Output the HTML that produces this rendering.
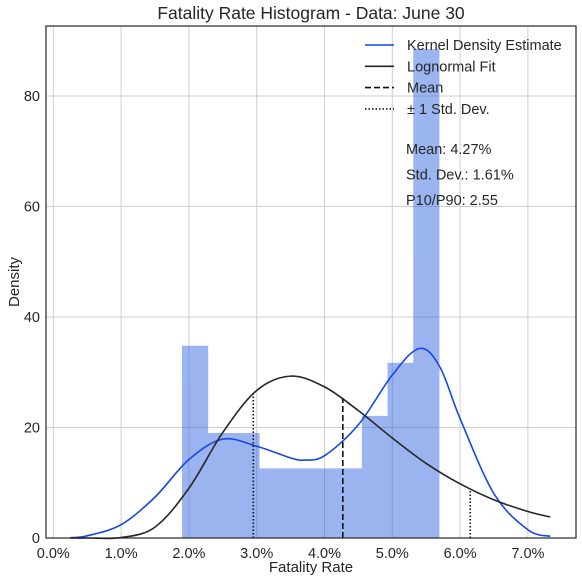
<!DOCTYPE html>
<html><head><meta charset="utf-8"><style>
body{margin:0;background:#fff;font-family:"Liberation Sans",Arial,sans-serif}
svg text{font-family:"Liberation Sans",Arial,sans-serif;fill:#262626}
</style></head><body>
<svg id="c" width="582" height="581"></svg>
<script>
const binStart=1.898, binWidth=0.379;
const binHeights=[34.8,19,19,12.6,12.6,12.6,12.6,22.1,31.7,88.5];
const kdeX=[0.25,0.5,1.0,1.5,2.0,2.5,3.0,3.5,3.7,4.0,4.5,5.0,5.4,5.7,6.0,6.5,7.0,7.33];
const kdeY=[0.05,0.4,2.4,7.4,14.2,17.9,16.6,14.5,14.1,14.9,20.5,29.5,34.3,31,21.6,8,1.5,0.3];
const lnX=[0.25,0.5,1.0,1.5,2.0,2.5,3.0,3.5,4.0,4.5,5.0,5.5,6.0,6.5,7.0,7.33];
const lnY=[0,0,0.08,1.97,9.0,19.1,26.7,29.3,27.35,23.05,18.1,13.5,9.8,6.9,4.8,3.8];
const meanVal=[4.27], meanTop=[25.3];
const sdVals=[2.95,6.15], sdTops=[26.3,8.9];
const xTicks=[0,1,2,3,4,5,6,7], yTicks=[0,20,40,60,80];
const statLines=["Mean: 4.27%","Std. Dev.: 1.61%","P10/P90: 2.55"];

const L=46,R=576,T=26,B=538;
const X=v=>53.3+v*67.8, Y=v=>538-v*5.525;
const svg=document.getElementById('c');const NS='http://www.w3.org/2000/svg';
function mk(t,a,p){const e=document.createElementNS(NS,t);for(const k in a)e.setAttribute(k,a[k]);(p||svg).appendChild(e);return e;}
xTicks.forEach(v=>{const g=mk('line',{x1:X(v),x2:X(v),y1:T,y2:B,stroke:'#cfcfcf','stroke-width':1});

const t=mk('text',{x:X(v),y:558,'font-size':14.5,'text-anchor':'middle'});t.textContent=v.toFixed(1)+'%';
});
yTicks.forEach(v=>{const g=mk('line',{x1:L,x2:R,y1:Y(v),y2:Y(v),stroke:'#cfcfcf','stroke-width':1});

const t=mk('text',{x:40,y:Y(v)+5,'font-size':14.5,'text-anchor':'end'});t.textContent=v;
});
const bars=mk('g',{opacity:0.48});

binHeights.forEach((h,i)=>{const x0=X(binStart+i*binWidth),x1=X(binStart+(i+1)*binWidth);
const r=mk('rect',{x:x0,y:Y(h),width:x1-x0+0.5,height:Y(0)-Y(h),fill:'#2f64e0'},bars);
});
function smooth(xs,ys){let d='M'+X(xs[0])+','+Y(ys[0]);
for(let i=0;i<xs.length-1;i++){const p0=[X(xs[Math.max(i-1,0)]),Y(ys[Math.max(i-1,0)])],p1=[X(xs[i]),Y(ys[i])],p2=[X(xs[i+1]),Y(ys[i+1])],p3=[X(xs[Math.min(i+2,xs.length-1)]),Y(ys[Math.min(i+2,xs.length-1)])];
const c1=[p1[0]+(p2[0]-p0[0])/6,p1[1]+(p2[1]-p0[1])/6],c2=[p2[0]-(p3[0]-p1[0])/6,p2[1]-(p3[1]-p1[1])/6];
d+=' C'+c1+' '+c2+' '+p2;}return d;}
const k=mk('path',{d:smooth(kdeX,kdeY),fill:'none',stroke:'#1447e6','stroke-width':1.6});

const ln=mk('path',{d:smooth(lnX,lnY),fill:'none',stroke:'#262626','stroke-width':1.6});

meanVal.forEach((v,i)=>{const l=mk('line',{x1:X(v),x2:X(v),y1:Y(0),y2:Y(meanTop[i]),stroke:'#111','stroke-width':1.6,'stroke-dasharray':'6,3'});
});
sdVals.forEach((v,i)=>{const l=mk('line',{x1:X(v),x2:X(v),y1:Y(0),y2:Y(sdTops[i]),stroke:'#111','stroke-width':1.6,'stroke-dasharray':'1.5,2'});
});
const f=mk('rect',{x:L,y:T,width:R-L,height:B-T,fill:'none',stroke:'#262626','stroke-width':1.2});

let t=mk('text',{x:311,y:19,'font-size':17.5,'text-anchor':'middle'});t.textContent='Fatality Rate Histogram - Data: June 30';

t=mk('text',{x:311,y:572,'font-size':15,'text-anchor':'middle'});t.textContent='Fatality Rate';

t=mk('text',{x:0,y:0,'font-size':15,'text-anchor':'middle',transform:'translate(19,282) rotate(-90)'});t.textContent='Density';

const leg=[['Kernel Density Estimate','#1447e6',''],['Lognormal Fit','#262626',''],['Mean','#111','6,3'],['± 1 Std. Dev.','#111','1.5,2']];
leg.forEach((e,i)=>{const y=45+i*21.3;
const l=mk('line',{x1:365,x2:394,y1:y,y2:y,stroke:e[1],'stroke-width':1.6});if(e[2])l.setAttribute('stroke-dasharray',e[2]);

const tx=mk('text',{x:407,y:y+5,'font-size':14.5});tx.textContent=e[0];
});
statLines.forEach((s,i)=>{const tx=mk('text',{x:406,y:154+i*25.5,'font-size':14.5});tx.textContent=s;
});
</script>
</body></html>
